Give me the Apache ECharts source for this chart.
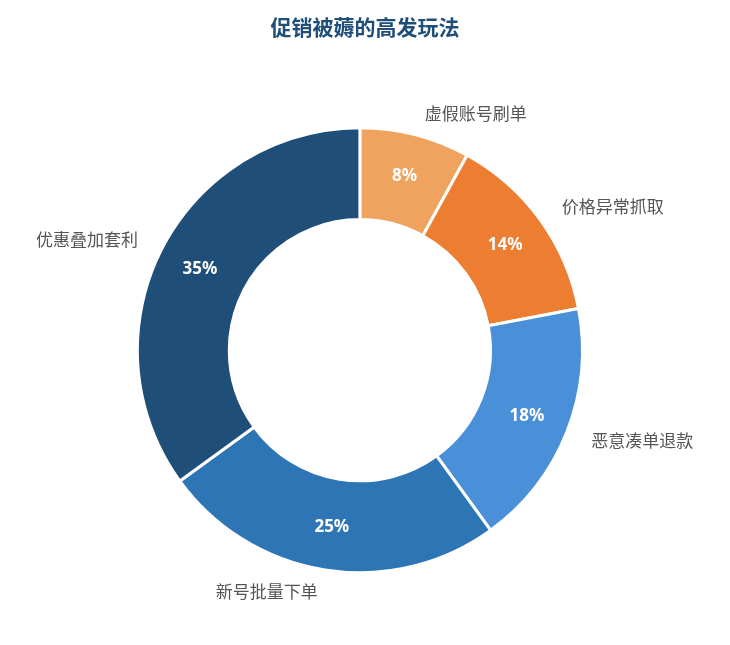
<!DOCTYPE html>
<html><head><meta charset="utf-8">
<script src="https://cdn.jsdelivr.net/npm/echarts@6/dist/echarts.min.js"></script>
<style>html,body{margin:0;padding:0;background:#fff}#c{width:730px;height:645px}</style>
</head><body><div id="c"></div>
<script>
const categories = ['虚假账号刷单','价格异常抓取','恶意凑单退款','新号批量下单','优惠叠加套利'];
const values = [8,14,18,25,35];
const colors = ['#F0A35E','#ED7D31','#4A90D9','#2E75B6','#1F4E79'];
const data = categories.map((n,i)=>({name:n,value:values[i],itemStyle:{color:colors[i]}}));
const chart = echarts.init(document.getElementById('c'));
const base = {type:'pie',center:['49.3%','54.3%'],radius:['40.5%','69%'],startAngle:90,clockwise:true,
  itemStyle:{borderColor:'#fff',borderWidth:3},emphasis:{disabled:true}};
chart.setOption({
  title:{text:'促销被薅的高发玩法',left:'center',top:12,textStyle:{color:'#1F4E79',fontSize:21,fontWeight:'bold',fontFamily:'Noto Sans CJK SC'}},
  series:[
    Object.assign({},base,{data:data,label:{show:true,position:'outside',color:'#555',fontSize:17,fontFamily:'Noto Sans CJK SC',distanceToLabelLine:4},
      labelLine:{show:false,length:22,length2:0}}),
    Object.assign({},base,{silent:true,data:data.map(d=>({name:d.name,value:d.value,itemStyle:{color:'transparent',borderWidth:0}})),
      label:{show:true,position:'inside',formatter:'{c}%',color:'#fff',fontSize:17,fontWeight:'bold',fontFamily:'Noto Sans'},labelLine:{show:false}})
  ]
});
</script></body></html>
